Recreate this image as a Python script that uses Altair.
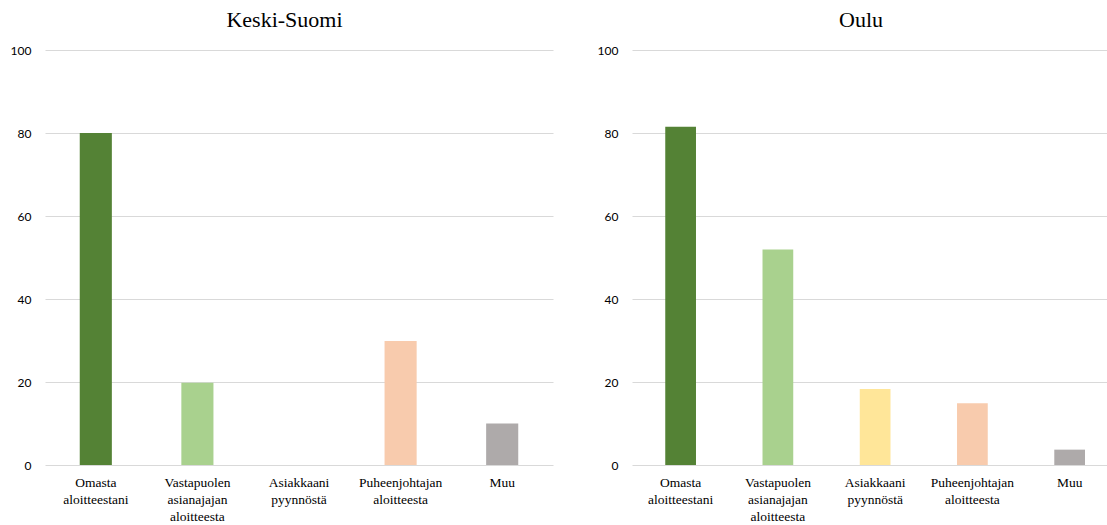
import altair as alt
import pandas as pd

# Categories (x axis) and their bar colours
categories = [
    "Omasta aloitteestani",
    "Vastapuolen asianajajan aloitteesta",
    "Asiakkaani pyynnöstä",
    "Puheenjohtajan aloitteesta",
    "Muu",
]
colors = ["#548235", "#A9D18E", "#FFE699", "#F8CBAD", "#AEAAAA"]

# Shares per region
keski_suomi = [80.0, 19.8, 0.0, 29.9, 10.0]
oulu = [81.5, 51.9, 18.3, 14.9, 3.7]

y_ticks = [0, 20, 40, 60, 80, 100]

GRID = "#d9d9d9"
SERIF = "'Liberation Serif', 'Times New Roman', serif"
SANS = "Lato, 'Liberation Sans', sans-serif"


def panel(title, values, width, pad_outer, align, axis_extent, title_dx):
    df = pd.DataFrame({"kategoria": categories, "arvo": values})
    x_scale = alt.Scale(domain=categories, paddingInner=0.684,
                        paddingOuter=pad_outer, align=align)
    return (
        alt.Chart(df, title=alt.TitleParams(
            title, font=SERIF, fontSize=22, fontWeight="normal",
            color="#000000", anchor="middle", frame="group", dx=title_dx,
            offset=12))
        .mark_bar()
        .encode(
            x=alt.X("kategoria:N", sort=categories, scale=x_scale,
                    axis=alt.Axis(
                        title=None, labelAngle=0, ticks=False, domain=False,
                        labelFont=SERIF, labelFontSize=13.5,
                        labelColor="#000000", labelPadding=10,
                        labelLineHeight=17,
                        labelExpr="split(datum.label, ' ')")),
            y=alt.Y("arvo:Q", scale=alt.Scale(domain=[0, 100], nice=False),
                    axis=alt.Axis(
                        title=None, values=y_ticks, domain=False, ticks=False,
                        gridColor=GRID, gridWidth=1,
                        labelFont=SANS, labelFontSize=12,
                        labelColor="#000000", labelPadding=14,
                        minExtent=axis_extent, maxExtent=axis_extent)),
            color=alt.Color("kategoria:N",
                            scale=alt.Scale(domain=categories, range=colors),
                            legend=None),
        )
        .properties(width=width, height=415)
    )


left = panel("Keski-Suomi", keski_suomi, 508, 0.342, 0.5, 40, -14.5)
# the right panel runs to the page edge, so its last band has less room
right = panel("Oulu", oulu, 475, 0.284, 0.602, 35, -8.5)

chart = (
    alt.hconcat(left, right, spacing=44)
    .properties(padding={"left": 5, "top": 9, "right": 0, "bottom": 0},
                background="#ffffff")
    .configure_view(stroke=None)
)

chart.save("out.html", embed_options={"renderer": "svg", "actions": False})
